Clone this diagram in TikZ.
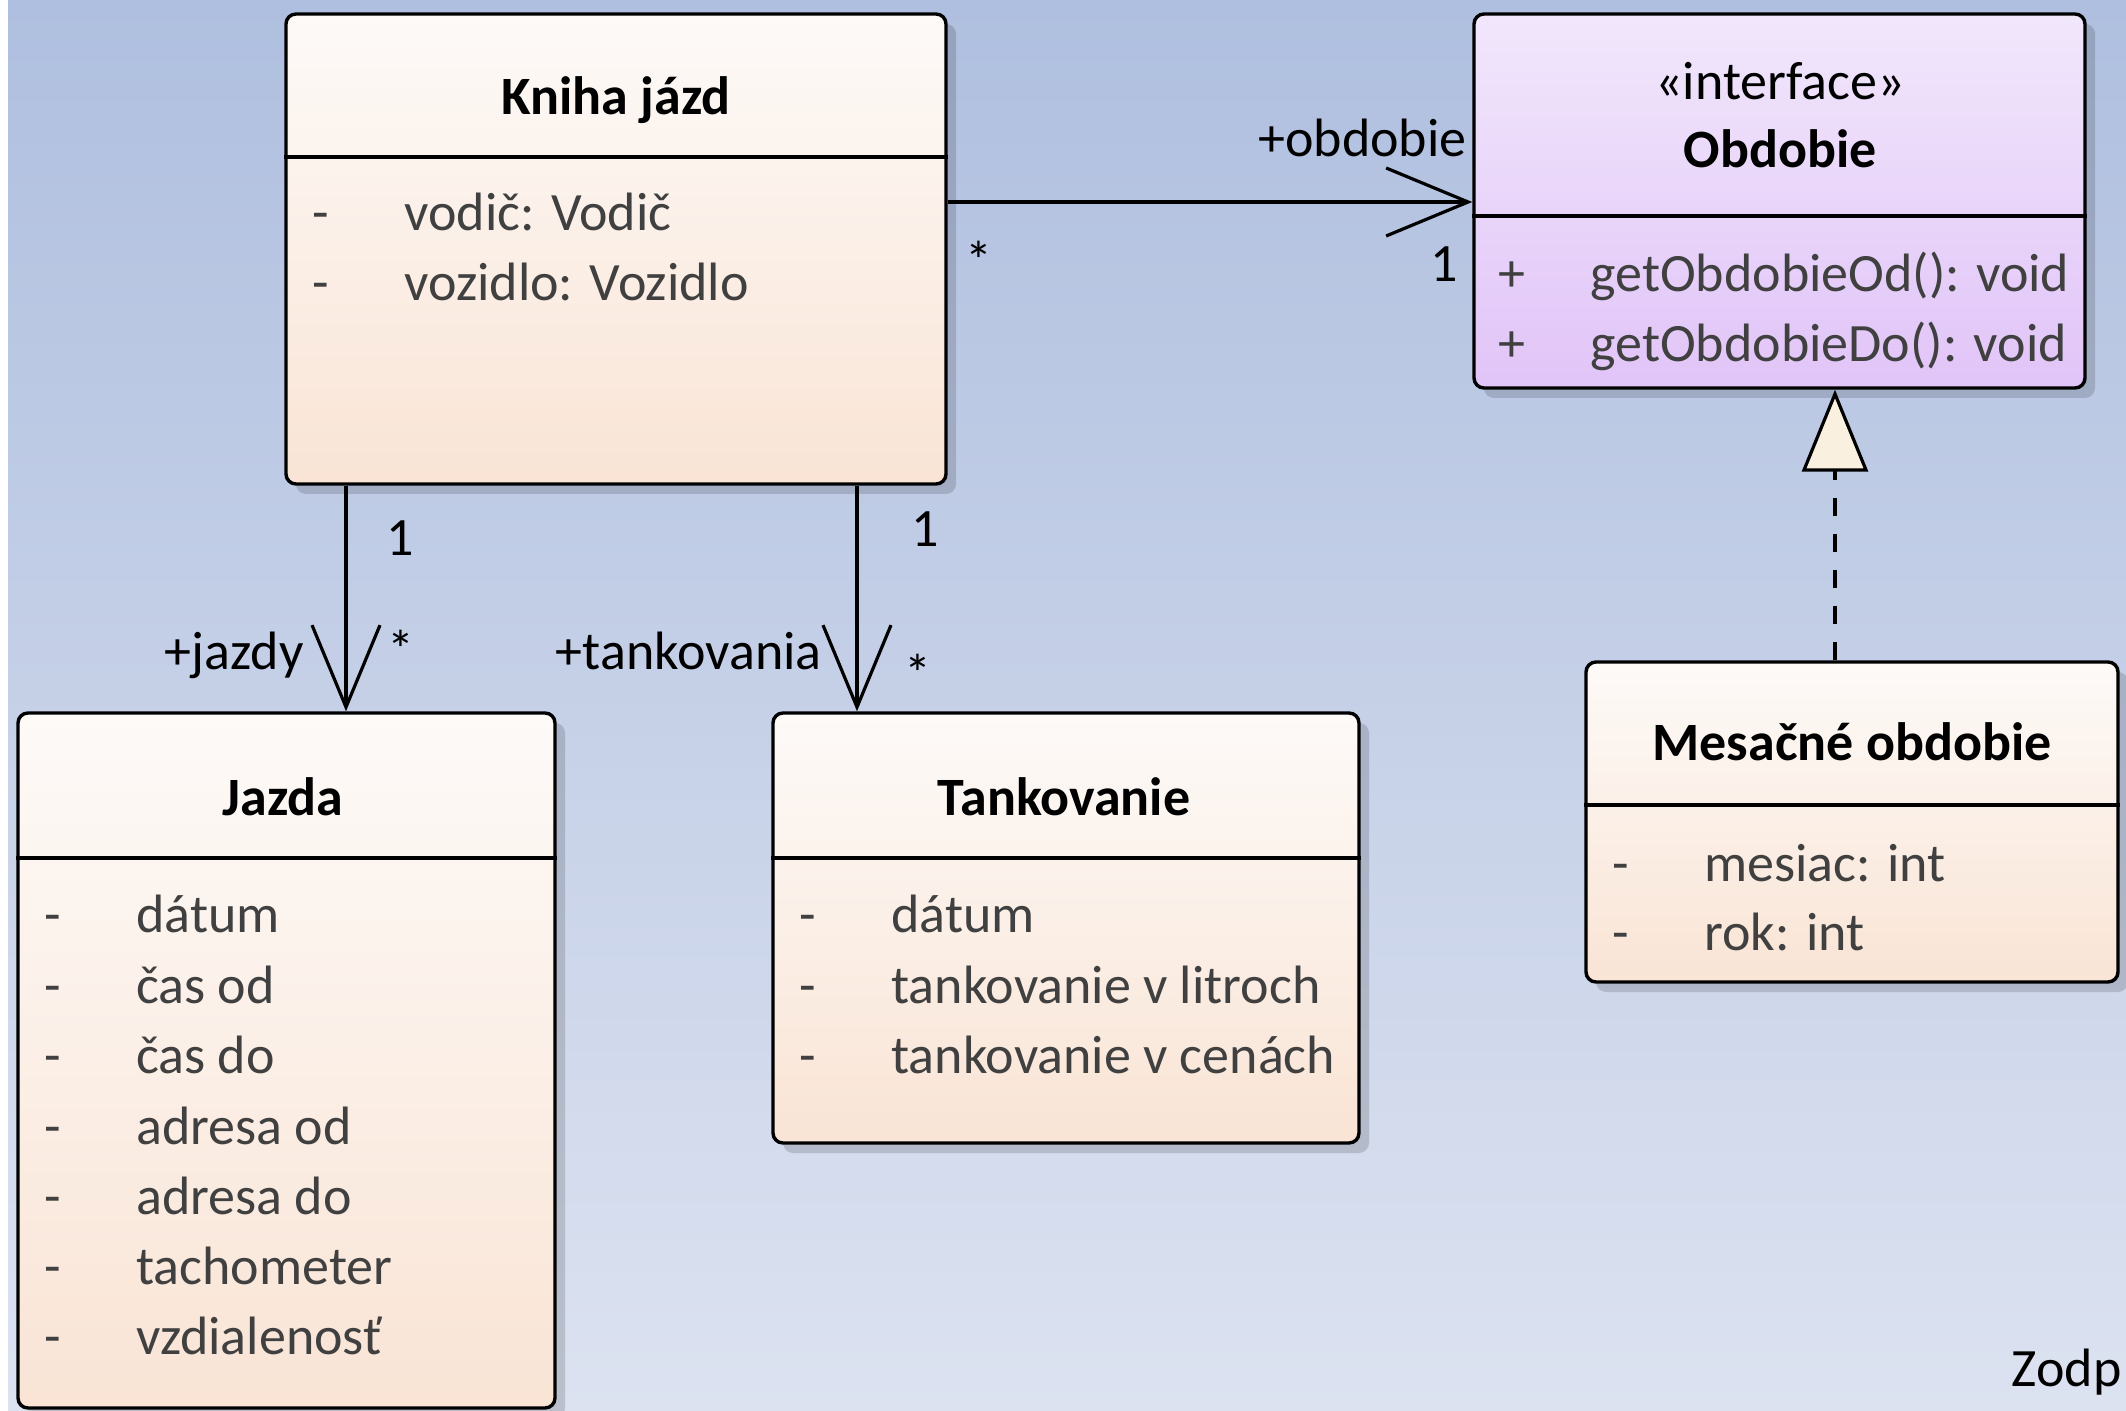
\documentclass[tikz,border=0pt]{standalone}
\usepackage{fontspec}
\setmainfont{Carlito}
\usetikzlibrary{arrows.meta,shadows}

\definecolor{bgtop}{HTML}{AFBFDF}
\definecolor{bgbot}{HTML}{DCE2F0}
\definecolor{peachtop}{HTML}{FDFAF8}
\definecolor{peachbot}{HTML}{F9E4D5}
\definecolor{lilactop}{HTML}{F1E7FB}
\definecolor{lilacbot}{HTML}{E1C4F8}
\definecolor{tricream}{HTML}{FAF0E0}
\definecolor{attrgray}{HTML}{404040}

\tikzset{
  classbox/.style={draw=black, line width=1.7pt, rounded corners=5pt,
    top color=peachtop, bottom color=peachbot, inner sep=0pt,
    drop shadow={shadow xshift=5pt, shadow yshift=-5pt, opacity=0.15, fill=black}},
  ifacebox/.style={classbox, top color=lilactop, bottom color=lilacbot},
  title/.style={font=\bfseries\fontsize{27}{33}\selectfont, inner sep=0pt},
  stereo/.style={font=\fontsize{27}{33}\selectfont, inner sep=0pt},
  attr/.style={anchor=mid west, text=attrgray, font=\fontsize{27}{33}\selectfont, inner sep=0pt},
  vis/.style={anchor=mid, text=attrgray, font=\fontsize{27}{33}\selectfont, inner sep=0pt},
  role/.style={font=\fontsize{27}{33}\selectfont, inner sep=0pt},
  divline/.style={line width=1.7pt},
  assoc/.style={line width=1.6pt, -{Straight Barb[length=41pt, width=34pt, line width=1.6pt]}},
  realize/.style={line width=1.6pt, dash pattern=on 9pt off 9pt,
    -{Triangle[length=41pt, width=33pt, fill=tricream, line width=1.6pt]}},
}

\begin{document}
\begin{tikzpicture}[x=0.5pt, y=-0.5pt]
  \useasboundingbox (0,0) rectangle (2126,1411);
  \fill[top color=bgtop, bottom color=bgbot] (8,0) rectangle (2126,1411);
  \fill[white] (0,0) rectangle (8,1411);

  % classes
  \node[classbox, minimum width=330pt, minimum height=235pt] (kniha) at (616,249) {};
  \node[ifacebox, minimum width=305.5pt, minimum height=187pt] (obd) at (1779.5,201) {};
  \node[classbox, minimum width=268.5pt, minimum height=347.5pt] (jazda) at (286.5,1060.5) {};
  \node[classbox, minimum width=293pt, minimum height=215pt] (tank) at (1066,928) {};
  \node[classbox, minimum width=266pt, minimum height=160pt] (mes) at (1852,822) {};

  \draw[divline] (kniha.west |- 0,157) -- (kniha.east |- 0,157);
  \draw[divline] (obd.west |- 0,216) -- (obd.east |- 0,216);
  \draw[divline] (jazda.west |- 0,858) -- (jazda.east |- 0,858);
  \draw[divline] (tank.west |- 0,858) -- (tank.east |- 0,858);
  \draw[divline] (mes.west |- 0,805) -- (mes.east |- 0,805);

  % Kniha jazd
  \node[title] (kt) at (616,100) {Kniha jázd};
  \node[vis] (km1) at (321,226) {-};
  \node[attr] (ka1) at (404,226) {vodič: Vodič};
  \node[vis] (km2) at (321,296) {-};
  \node[attr] (ka2) at (404,296) {vozidlo: Vozidlo};

  % Obdobie
  \node[stereo] (os) at (1780,81) {«interface»};
  \node[title] (ot) at (1780,149) {Obdobie};
  \node[vis] (om1) at (1512,287) {+};
  \node[attr] (oa1) at (1590,287) {getObdobieOd(): void};
  \node[vis] (om2) at (1512,357) {+};
  \node[attr] (oa2) at (1590,357) {getObdobieDo(): void};

  % Jazda
  \node[title] (jt) at (283,797) {Jazda};
  \node[vis] (jm1) at (53,928) {-};
  \node[attr] (ja1) at (136,928) {dátum};
  \node[vis] (jm2) at (53,999) {-};
  \node[attr] (ja2) at (136,999) {čas od};
  \node[vis] (jm3) at (53,1069) {-};
  \node[attr] (ja3) at (136,1069) {čas do};
  \node[vis] (jm4) at (53,1140) {-};
  \node[attr] (ja4) at (136,1140) {adresa od};
  \node[vis] (jm5) at (53,1210) {-};
  \node[attr] (ja5) at (136,1210) {adresa do};
  \node[vis] (jm6) at (53,1280) {-};
  \node[attr] (ja6) at (136,1280) {tachometer};
  \node[vis] (jm7) at (53,1350) {-};
  \node[attr] (ja7) at (136,1350) {vzdialenosť};

  % Tankovanie
  \node[title] (tt) at (1064,797) {Tankovanie};
  \node[vis] (tm1) at (808,928) {-};
  \node[attr] (ta1) at (891,928) {dátum};
  \node[vis] (tm2) at (808,999) {-};
  \node[attr] (ta2) at (891,999) {tankovanie v litroch};
  \node[vis] (tm3) at (808,1069) {-};
  \node[attr] (ta3) at (891,1069) {tankovanie v cenách};

  % Mesacne obdobie
  \node[title] (mt) at (1852,742) {Mesačné obdobie};
  \node[vis] (mm1) at (1621,877) {-};
  \node[attr] (ma1) at (1704,877) {mesiac: int};
  \node[vis] (mm2) at (1621,946) {-};
  \node[attr] (ma2) at (1704,946) {rok: int};

  % associations
  \draw[assoc] (kniha.east |- 0,202) -- (obd.west |- 0,202);
  \draw[assoc] (kniha.south -| 346,0) -- (jazda.north -| 346,0);
  \draw[assoc] (kniha.south -| 857,0) -- (tank.north -| 857,0);
  \draw[realize] (mes.north -| 1835,0) -- (obd.south -| 1835,0);

  \node[role, anchor=mid east] (ro) at (1467,152) {+obdobie};
  \node[role] (r1o) at (1444,264) {1};
  \node[role] (rsk) at (979,260) {*};
  \node[role] (r1j) at (400,538) {1};
  \node[role, anchor=mid east] (rj) at (304,665) {+jazdy};
  \node[role] (rsj) at (401,649) {*};
  \node[role] (r1t) at (925,529) {1};
  \node[role, anchor=mid east] (rt) at (822,665) {+tankovania};
  \node[role] (rst) at (918,673) {*};

  \node[role, anchor=mid east] (zo) at (2122,1382) {Zodp};
\end{tikzpicture}
\end{document}
